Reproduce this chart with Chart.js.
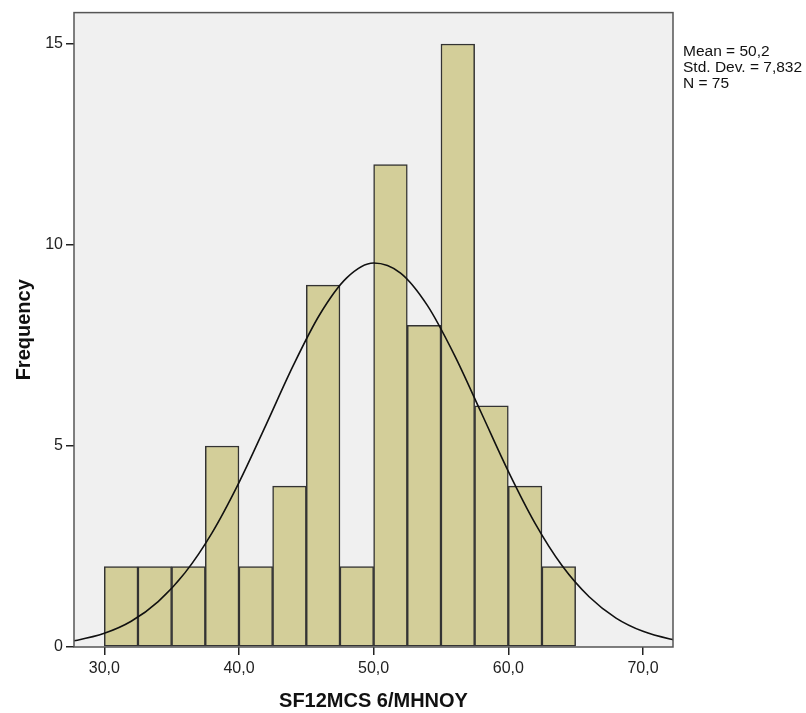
<!DOCTYPE html>
<html>
<head>
<meta charset="utf-8">
<script src="https://cdn.jsdelivr.net/npm/chart.js@4/dist/chart.umd.min.js"></script>
<style>
  body { margin: 0; background: #fff; }
  canvas { display: block; }
</style>
</head>
<body>
<canvas id="hist" width="806" height="713"></canvas>
<script>
// histogram bins (lower edge) and counts
const binStarts = [30, 32.5, 35, 37.5, 40, 42.5, 45, 47.5, 50, 52.5, 55, 57.5, 60, 62.5];
const binWidth = 2.5;
const counts = [2, 2, 2, 5, 2, 4, 9, 2, 12, 8, 15, 6, 4, 2];

// normal curve
const curveX = [27, 28, 30, 32, 34, 36, 38, 40, 42, 44, 46, 48, 50, 52, 54, 56, 58, 60, 62, 64, 66, 68, 70, 72, 73];
const curveY = [0.12, 0.17, 0.34, 0.64, 1.13, 1.85, 2.84, 4.09, 5.52, 6.98, 8.27, 9.18, 9.55, 9.30, 8.49, 7.26, 5.82, 4.37, 3.07, 2.02, 1.25, 0.72, 0.39, 0.20, 0.14];

const statLines = ['Mean = 50,2', 'Std. Dev. = 7,832', 'N = 75'];
const xTitle = 'SF12MCS 6/MHNOY';
const yTitle = 'Frequency';

const FONT = "'Liberation Sans', Arial, sans-serif";

const frame = {
  id: 'frame',
  beforeDraw(chart) {
    const a = chart.chartArea;
    const ctx = chart.ctx;
    ctx.save();
    ctx.fillStyle = '#f0f0f0';
    ctx.fillRect(a.left, a.top, a.right - a.left, a.bottom - a.top);
    ctx.restore();
  },
  afterDraw(chart) {
    const a = chart.chartArea;
    const ctx = chart.ctx;
    ctx.save();
    ctx.strokeStyle = '#555';
    ctx.lineWidth = 1.5;
    ctx.strokeRect(a.left, a.top, a.right - a.left, a.bottom - a.top);
    ctx.fillStyle = '#111';
    ctx.font = '15.5px ' + FONT;
    ctx.textBaseline = 'alphabetic';
    statLines.forEach((t, i) => ctx.fillText(t, a.right + 10, 56 + i * 16));
    ctx.restore();
  }
};

new Chart(document.getElementById('hist'), {
  data: {
    datasets: [{
      type: 'line',
      data: curveX.map((x, i) => ({ x: x, y: curveY[i] })),
      borderColor: '#111',
      borderWidth: 1.6,
      pointRadius: 0,
      cubicInterpolationMode: 'monotone',
      order: 0
    }, {
      type: 'bar',
      data: binStarts.map((s, i) => ({ x: s + binWidth / 2, y: counts[i] })),
      backgroundColor: '#d3ce99',
      borderColor: '#333',
      borderWidth: 1.5,
      borderSkipped: false,
      barPercentage: 1,
      categoryPercentage: 1,
      order: 1
    }]
  },
  options: {
    responsive: false,
    animation: false,
    layout: { padding: { top: 12, right: 133, left: 0, bottom: 0 } },
    plugins: {
      legend: { display: false },
      tooltip: { enabled: false }
    },
    scales: {
      x: {
        type: 'linear',
        min: 27.75,
        max: 72.23,
        offset: false,
        afterFit: s => { s.height = 66; },
        grid: { offset: false, drawOnChartArea: false, drawTicks: true, tickLength: 8, color: '#222', lineWidth: 1.5 },
        border: { display: false },
        ticks: {
          stepSize: 10,
          includeBounds: false,
          padding: 4,
          color: '#222',
          font: { family: FONT, size: 16 },
          callback: v => v.toFixed(1).replace('.', ',')
        },
        title: {
          display: true,
          text: xTitle,
          color: '#111',
          font: { family: FONT, size: 20, weight: 'bold' },
          padding: { top: 3, bottom: 0 }
        }
      },
      y: {
        type: 'linear',
        min: 0,
        max: 15.78,
        afterFit: s => { s.width = 74; },
        grid: { drawOnChartArea: false, drawTicks: true, tickLength: 8, color: '#222', lineWidth: 1.5 },
        border: { display: false },
        ticks: {
          stepSize: 5,
          includeBounds: false,
          padding: 3,
          color: '#222',
          font: { family: FONT, size: 16 }
        },
        title: {
          display: true,
          text: yTitle,
          color: '#111',
          font: { family: FONT, size: 20, weight: 'bold' },
          padding: { top: 12, bottom: 0 }
        }
      }
    }
  },
  plugins: [frame]
});
</script>
</body>
</html>
